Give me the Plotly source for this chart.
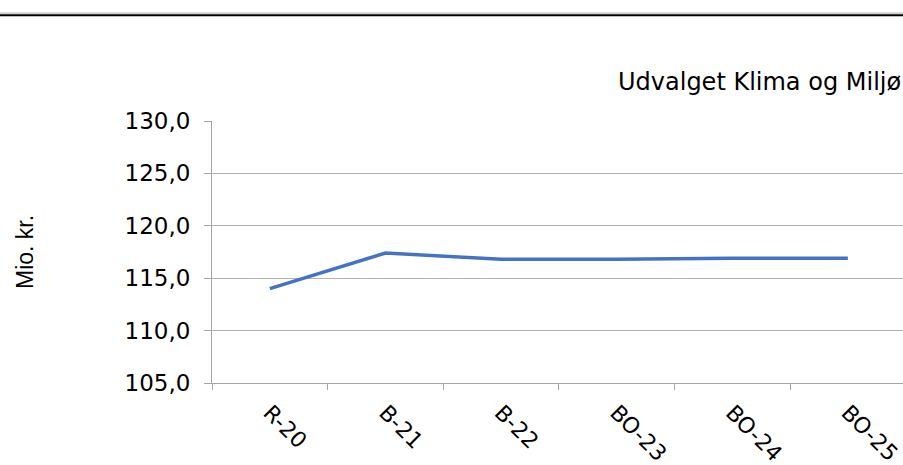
import plotly.graph_objects as go

# Data
kategorier = ["R-20", "B-21", "B-22", "BO-23", "BO-24", "BO-25"]
udgifter = [114.0, 117.4, 116.8, 116.8, 116.9, 116.9]

titel = "Udvalget Klima og Miljø"
y_titel = "Mio. kr."

FONT = "DejaVu Sans, Verdana, sans-serif"

fig = go.Figure(
    go.Scatter(
        x=kategorier,
        y=udgifter,
        mode="lines",
        line=dict(color="#4472C4", width=3.5),
        hoverinfo="x+y",
    )
)

fig.update_layout(
    width=903,
    height=465,
    margin=dict(l=212, r=0, t=121, b=82),
    paper_bgcolor="white",
    plot_bgcolor="white",
    showlegend=False,
    font=dict(family=FONT, color="black", size=22),
    separators=",.",
)

fig.update_xaxes(
    type="category",
    range=[-0.5, 5.477],
    showline=True,
    linecolor="#a6a6a6",
    linewidth=1,
    ticks="outside",
    tickson="boundaries",
    ticklen=6,
    tickcolor="#a6a6a6",
    tickangle=45,
    tickfont=dict(size=22),
    ticklabelshift=0,
    ticklabelstandoff=7,
    showgrid=False,
)

fig.update_yaxes(
    range=[105, 130],
    dtick=5,
    tickformat=".1f",
    showline=True,
    linecolor="#a6a6a6",
    ticks="outside",
    ticklen=7,
    tickcolor="#a6a6a6",
    gridcolor="#b3b3b3",
    gridwidth=1,
    zeroline=False,
    tickfont=dict(size=23),
    ticklabelstandoff=9,
)

# titel øverst til højre
fig.add_annotation(
    text=titel, xref="paper", yref="paper", x=1.0, y=1.148,
    xanchor="right", yanchor="middle", showarrow=False, font=dict(size=24),
)
# y-akse titel
fig.add_annotation(
    text=y_titel, xref="paper", yref="paper", x=-0.2706, y=0.5,
    xanchor="center", yanchor="middle", textangle=-90, showarrow=False,
    font=dict(family="Liberation Sans, Arial, sans-serif", size=23),
)

# linjer i toppen
fig.add_shape(type="line", xref="paper", yref="paper", x0=-0.31, x1=1.0,
              y0=1.412, y1=1.412, line=dict(color="#b0b0b0", width=1))
fig.add_shape(type="line", xref="paper", yref="paper", x0=-0.31, x1=1.0,
              y0=1.404, y1=1.404, line=dict(color="black", width=2))

fig.write_html(
    "out.html",
    config={"displayModeBar": False},
    post_script="document.body.style.margin='0';",
)
